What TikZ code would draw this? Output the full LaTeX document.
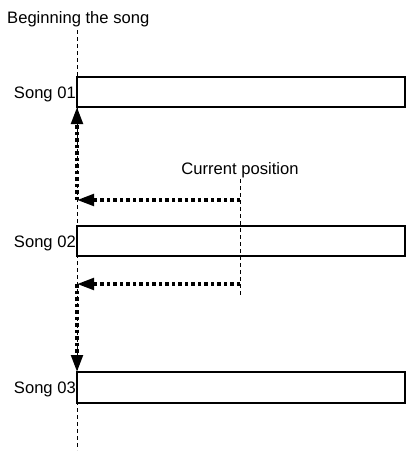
\documentclass[tikz,border=0pt]{standalone}
\usepackage{fontspec}
\setmainfont{Liberation Sans}
\usetikzlibrary{arrows.meta}
\begin{document}
\begin{tikzpicture}[x=1pt,y=-1pt,
  songbox/.style={draw, line width=1.6pt, minimum width=328pt, minimum height=30pt, anchor=north west, inner sep=0pt, outer sep=0pt},
  lbl/.style={font=\fontsize{16.6}{20}\selectfont, inner sep=0pt},
  guide/.style={line width=0.8pt, dash pattern=on 4pt off 3pt},
  move/.style={line width=3.5pt, dash pattern=on 3.5pt off 3pt, -{Triangle[length=17pt,width=11.5pt]}}]
\useasboundingbox (0,0) rectangle (410,459);
% boxes
\node[songbox] (s1) at (77,77) {};
\node[songbox] (s2) at (77,226) {};
\node[songbox, minimum height=31pt] (s3) at (77,372) {};
% labels
\node[lbl, anchor=base west] (beg) at (7,23) {Beginning the song};
\node[lbl, anchor=base east] (l1) at (76,98) {Song 01};
\node[lbl, anchor=base east] (l2) at (76,247) {Song 02};
\node[lbl, anchor=base east] (l3) at (76,393) {Song 03};
\node[lbl, anchor=base] (cur) at (240,174) {Current position};
% guides
\coordinate (gtop) at (77,30);
\coordinate (gbot) at (77,450);
\draw[guide] (gtop) -- (gbot);
\coordinate (ctop) at (240,179);
\coordinate (cbot) at (240,297);
\draw[guide] (ctop) -- (cbot);
% moves
\coordinate (c1) at (240,200);
\coordinate (b1) at (77,200);
\coordinate (c2) at (240,284);
\coordinate (b2) at (77,284);
\draw[move] (c1) -- (b1);
\draw[move] (b1) -- (s1.south west);
\draw[move] (c2) -- (b2);
\draw[move] (b2) -- (s3.north west);
\end{tikzpicture}
\end{document}
